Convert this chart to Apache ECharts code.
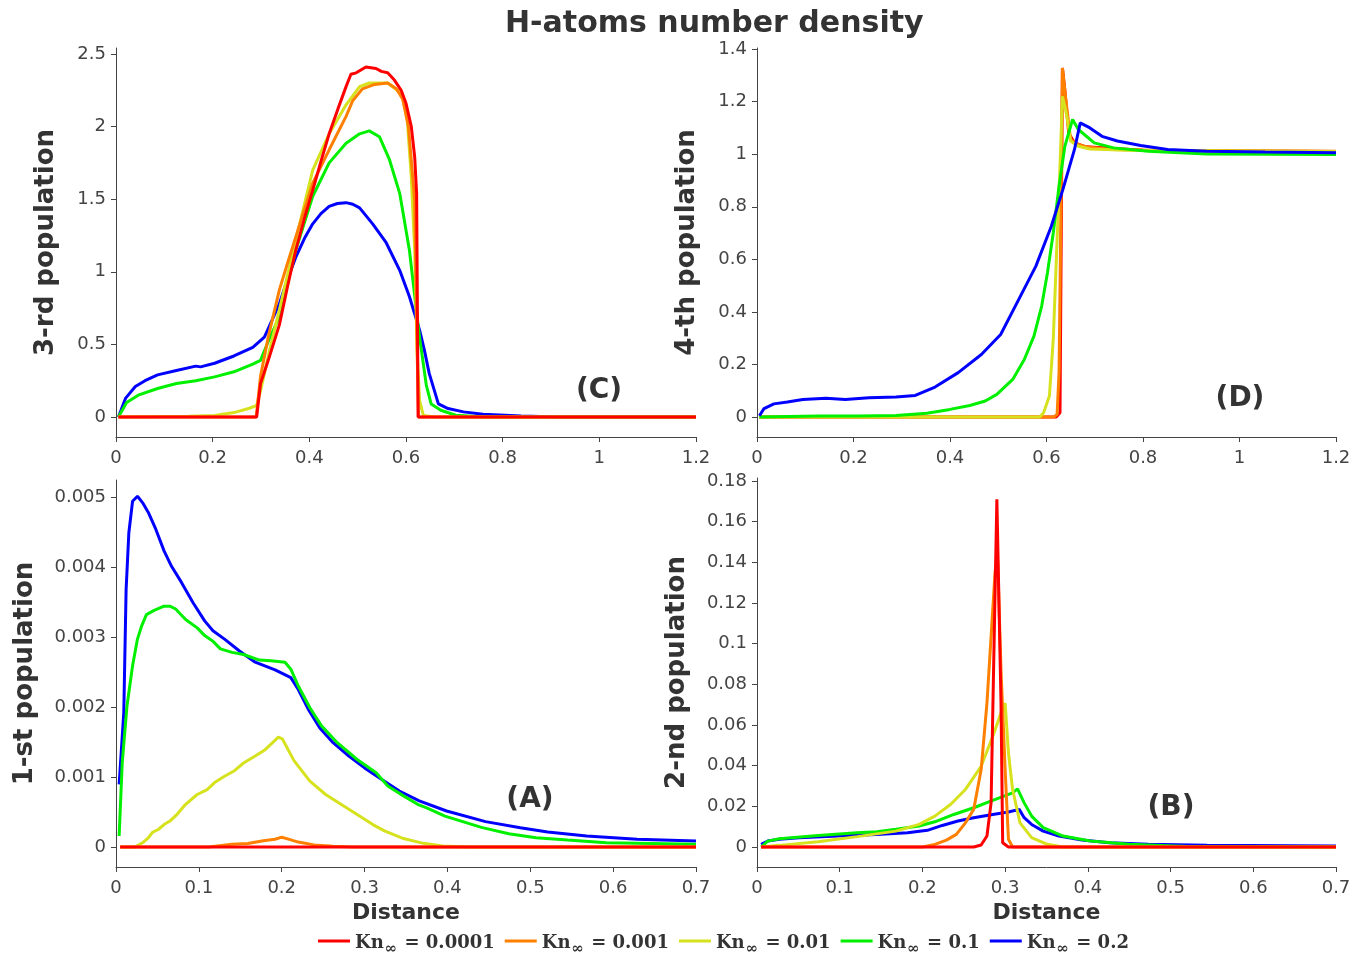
<!DOCTYPE html>
<html><head><meta charset="utf-8">
<script src="https://cdn.jsdelivr.net/npm/echarts@6/dist/echarts.min.js"></script>
<style>html,body{margin:0;padding:0;background:#fff}#c{width:1370px;height:954px}</style>
</head><body><div id="c"></div>
<script>
const seriesNames = ['Kn∞ = 0.0001','Kn∞ = 0.001','Kn∞ = 0.01','Kn∞ = 0.1','Kn∞ = 0.2'];
const panelLabels = ['(C)','(D)','(A)','(B)'];
const yNames = ['3-rd population','4-th population','1-st population','2-nd population'];
const xTicksWide = [0,0.2,0.4,0.6,0.8,1,1.2];
const xTicksNarrow = [0,0.1,0.2,0.3,0.4,0.5,0.6,0.7];
const yTicksC = [0,0.5,1,1.5,2,2.5];
const yTicksD = [0,0.2,0.4,0.6,0.8,1,1.2,1.4];
const yTicksA = [0,0.001,0.002,0.003,0.004,0.005];
const yTicksB = [0,0.02,0.04,0.06,0.08,0.1,0.12,0.14,0.16,0.18];

// Panel C (3-rd population)
const cRed = [[0.005,0],[0.291,0],[0.299,0.23],[0.315,0.39],[0.338,0.634],[0.355,0.9],[0.372,1.15],[0.39,1.37],[0.407,1.56],[0.424,1.76],[0.441,1.95],[0.459,2.12],[0.476,2.275],[0.486,2.36],[0.497,2.37],[0.517,2.41],[0.538,2.40],[0.549,2.38],[0.562,2.37],[0.576,2.32],[0.59,2.25],[0.6,2.16],[0.611,2.0],[0.618,1.79],[0.622,1.54],[0.625,0],[1.2,0]];
const cOrange = [[0.005,0],[0.29,0],[0.299,0.28],[0.315,0.55],[0.338,0.875],[0.355,1.06],[0.372,1.24],[0.39,1.43],[0.407,1.61],[0.441,1.84],[0.476,2.07],[0.49,2.18],[0.51,2.26],[0.535,2.29],[0.562,2.30],[0.58,2.26],[0.593,2.19],[0.605,2.0],[0.618,1.49],[0.623,0.46],[0.626,0],[1.2,0]];
const cYellow = [[0.005,0],[0.15,0.005],[0.204,0.01],[0.244,0.03],[0.276,0.06],[0.291,0.08],[0.299,0.18],[0.315,0.42],[0.338,0.737],[0.372,1.22],[0.407,1.70],[0.441,1.95],[0.476,2.15],[0.504,2.275],[0.524,2.30],[0.562,2.30],[0.586,2.24],[0.596,2.17],[0.603,2.03],[0.611,1.65],[0.618,1.15],[0.623,0.46],[0.628,0.115],[0.636,0.01],[0.66,0],[1.2,0]];
const cGreen = [[0.005,0],[0.022,0.10],[0.046,0.15],[0.086,0.196],[0.125,0.23],[0.165,0.249],[0.204,0.276],[0.244,0.311],[0.283,0.364],[0.299,0.39],[0.315,0.52],[0.338,0.69],[0.372,1.15],[0.407,1.52],[0.441,1.75],[0.476,1.885],[0.504,1.95],[0.524,1.97],[0.545,1.93],[0.566,1.77],[0.587,1.54],[0.607,1.15],[0.628,0.55],[0.642,0.22],[0.652,0.09],[0.672,0.046],[0.703,0.012],[0.76,0],[1.2,0]];
const cBlue = [[0.005,0],[0.02,0.13],[0.04,0.21],[0.06,0.25],[0.086,0.29],[0.125,0.32],[0.165,0.35],[0.175,0.345],[0.204,0.37],[0.244,0.42],[0.283,0.48],[0.307,0.55],[0.322,0.66],[0.338,0.78],[0.355,0.95],[0.372,1.10],[0.39,1.23],[0.407,1.33],[0.424,1.40],[0.441,1.45],[0.458,1.47],[0.476,1.476],[0.49,1.465],[0.504,1.44],[0.531,1.33],[0.559,1.20],[0.587,1.01],[0.607,0.83],[0.628,0.60],[0.638,0.46],[0.648,0.3],[0.667,0.09],[0.687,0.058],[0.719,0.035],[0.759,0.018],[0.838,0.007],[0.917,0],[1.2,0]];

// Panel D (4-th population)
const dRed = [[0.005,0],[0.62,0],[0.628,0.016],[0.63,0.55],[0.633,1.328],[0.638,1.245],[0.646,1.08],[0.658,1.043],[0.682,1.028],[0.8,1.015],[1.2,1.01]];
const dOrange = [[0.005,0],[0.615,0],[0.622,0.01],[0.626,0.168],[0.63,0.80],[0.633,1.328],[0.64,1.208],[0.65,1.056],[0.662,1.04],[0.682,1.028],[0.731,1.018],[0.851,1.014],[1.2,1.011]];
const dYellow = [[0.005,0],[0.586,0],[0.594,0.016],[0.606,0.08],[0.614,0.295],[0.622,0.676],[0.628,0.954],[0.633,1.22],[0.641,1.156],[0.65,1.05],[0.666,1.03],[0.69,1.02],[0.771,1.015],[1.2,1.01]];
const dGreen = [[0.005,0],[0.127,0.004],[0.208,0.004],[0.288,0.006],[0.352,0.014],[0.4,0.029],[0.441,0.044],[0.473,0.061],[0.497,0.086],[0.53,0.143],[0.554,0.219],[0.574,0.308],[0.59,0.422],[0.602,0.549],[0.614,0.70],[0.626,0.878],[0.638,1.03],[0.654,1.132],[0.666,1.094],[0.699,1.043],[0.739,1.024],[0.811,1.011],[0.932,1.001],[1.2,0.999]];
const dBlue = [[0.005,0.005],[0.0145,0.032],[0.035,0.05],[0.063,0.057],[0.095,0.067],[0.143,0.071],[0.183,0.067],[0.232,0.073],[0.288,0.076],[0.328,0.082],[0.369,0.114],[0.417,0.169],[0.465,0.238],[0.505,0.314],[0.546,0.46],[0.578,0.574],[0.61,0.726],[0.634,0.866],[0.658,1.018],[0.67,1.119],[0.69,1.10],[0.715,1.068],[0.747,1.05],[0.795,1.033],[0.851,1.018],[0.932,1.011],[1.053,1.008],[1.2,1.005]];

// Panel A (1-st population)
const aRed = [[0.005,0],[0.7,0]];
const aOrange = [[0.005,0],[0.112,0],[0.14,0.00004],[0.159,0.00005],[0.178,0.00009],[0.192,0.00011],[0.2,0.00014],[0.206,0.00012],[0.22,0.00007],[0.239,0.00003],[0.262,0.00001],[0.286,0],[0.7,0]];
const aYellow = [[0.005,0],[0.0226,0],[0.032,0.00006],[0.039,0.00013],[0.044,0.00021],[0.051,0.00025],[0.058,0.00032],[0.065,0.00037],[0.074,0.00047],[0.084,0.00061],[0.098,0.00075],[0.11,0.00082],[0.119,0.00092],[0.131,0.00101],[0.143,0.00109],[0.154,0.0012],[0.168,0.0013],[0.18,0.00139],[0.189,0.00149],[0.196,0.00157],[0.201,0.00154],[0.215,0.00123],[0.234,0.00094],[0.253,0.00075],[0.281,0.00054],[0.31,0.00032],[0.324,0.00023],[0.347,0.00012],[0.371,0.000052],[0.394,0.000014],[0.427,0],[0.7,0]];
const aGreen = [[0.0038,0.000157],[0.0075,0.0012],[0.0132,0.00201],[0.02,0.00259],[0.0259,0.00297],[0.031,0.00316],[0.0367,0.00332],[0.046,0.00338],[0.058,0.00344],[0.065,0.00344],[0.072,0.0034],[0.084,0.00325],[0.098,0.00313],[0.107,0.00302],[0.117,0.00294],[0.126,0.00283],[0.14,0.00278],[0.154,0.00275],[0.173,0.00267],[0.187,0.00266],[0.204,0.00264],[0.211,0.00254],[0.22,0.0023],[0.234,0.00199],[0.248,0.00173],[0.267,0.00149],[0.291,0.00125],[0.314,0.00106],[0.328,0.00087],[0.347,0.00073],[0.364,0.00061],[0.375,0.00056],[0.397,0.00044],[0.441,0.00028],[0.474,0.00019],[0.507,0.000133],[0.545,0.0001],[0.592,0.000062],[0.7,0.000038]];
const aBlue = [[0.0038,0.000895],[0.0094,0.00192],[0.0122,0.00368],[0.0155,0.00449],[0.02,0.00494],[0.0259,0.00501],[0.032,0.00492],[0.039,0.00478],[0.048,0.00454],[0.058,0.00423],[0.067,0.00401],[0.079,0.00378],[0.093,0.00349],[0.107,0.00323],[0.117,0.00309],[0.131,0.00297],[0.149,0.0028],[0.168,0.00264],[0.192,0.00253],[0.211,0.00242],[0.22,0.00225],[0.232,0.00197],[0.246,0.0017],[0.262,0.00149],[0.281,0.0013],[0.3,0.00113],[0.324,0.00094],[0.342,0.0008],[0.366,0.00066],[0.399,0.000514],[0.446,0.000362],[0.488,0.000276],[0.521,0.000214],[0.568,0.000157],[0.629,0.00011],[0.7,0.000086]];

// Panel B (2-nd population)
const bRed = [[0.005,0],[0.262,0],[0.271,0.001],[0.278,0.0054],[0.283,0.0217],[0.286,0.087],[0.29,0.171],[0.292,0.171],[0.295,0.0708],[0.297,0.0021],[0.304,0],[0.7,0]];
const bOrange = [[0.005,0],[0.2,0],[0.215,0.0013],[0.229,0.0034],[0.241,0.0062],[0.252,0.0119],[0.262,0.0185],[0.271,0.0381],[0.278,0.0708],[0.283,0.1035],[0.288,0.1362],[0.291,0.141],[0.295,0.087],[0.3,0.038],[0.304,0.0038],[0.309,0],[0.7,0]];
const bYellow = [[0.005,0],[0.027,0.0008],[0.074,0.0026],[0.121,0.0051],[0.168,0.0078],[0.196,0.0111],[0.215,0.0152],[0.234,0.0209],[0.252,0.0283],[0.271,0.0397],[0.285,0.0544],[0.295,0.0659],[0.3,0.0708],[0.304,0.0463],[0.309,0.0283],[0.318,0.0119],[0.332,0.0046],[0.351,0.0013],[0.37,0],[0.7,0]];
const bGreen = [[0.005,0],[0.013,0.0029],[0.027,0.0041],[0.074,0.0057],[0.121,0.007],[0.145,0.0075],[0.168,0.0087],[0.196,0.0103],[0.215,0.0124],[0.238,0.016],[0.262,0.0193],[0.285,0.0229],[0.309,0.0266],[0.315,0.0286],[0.323,0.0217],[0.332,0.0152],[0.346,0.0095],[0.37,0.0054],[0.403,0.0029],[0.45,0.0013],[0.52,0.0003],[0.7,0]];
const bBlue = [[0.005,0.0013],[0.013,0.0029],[0.027,0.0038],[0.051,0.0046],[0.098,0.0054],[0.145,0.0062],[0.182,0.007],[0.206,0.0082],[0.224,0.0106],[0.243,0.0128],[0.262,0.0144],[0.285,0.016],[0.304,0.0172],[0.317,0.0185],[0.323,0.0144],[0.332,0.0111],[0.346,0.0078],[0.365,0.0054],[0.393,0.0034],[0.426,0.0021],[0.473,0.0013],[0.544,0.0008],[0.7,0.0005]];

const colors = ['#ff0000','#ff8000','#d6e21e','#00f000','#0000ff'];
const F = 'DejaVu Sans';
const TXT = '#444';

const grids = [
  {left:116, top:48, width:580, height:389},
  {left:757, top:48, width:579, height:389},
  {left:116, top:480, width:580, height:387},
  {left:757, top:478, width:579, height:389}
];
const yRanges = [[-0.138,2.541],[-0.076,1.404],[-0.000286,0.005243],[-0.00984,0.1815]];
const yTicks = [yTicksC, yTicksD, yTicksA, yTicksB];
const xTicks = [xTicksWide, xTicksWide, xTicksNarrow, xTicksNarrow];
const yNameGaps = [57, 57, 78, 67];
const fmt = v => String(parseFloat(Number(v).toFixed(6)));

const xAxes = [0,1,2,3].map(i => ({
  type:'value', gridIndex:i, position:'bottom', min:0, max: i<2 ? 1.2 : 0.7,
  name: i>=2 ? 'Distance' : '', nameLocation:'middle', nameGap:35,
  nameTextStyle:{fontFamily:F, fontWeight:'bold', fontSize:22, color:'#333'},
  axisLine:{show:true, onZero:false, lineStyle:{color:TXT, width:1}},
  axisTick:{show:true, length:5, lineStyle:{color:TXT}, customValues:xTicks[i]},
  axisLabel:{fontFamily:F, fontSize:18, color:TXT, margin:12, customValues:xTicks[i], formatter:fmt},
  splitLine:{show:false}
}));
const yAxes = [0,1,2,3].map(i => ({
  type:'value', gridIndex:i, position:'left', min:yRanges[i][0], max:yRanges[i][1],
  name: yNames[i], nameLocation:'middle', nameGap:yNameGaps[i], nameRotate:90,
  nameTextStyle:{fontFamily:F, fontWeight:'bold', fontSize:26, color:'#333'},
  axisLine:{show:true, onZero:false, lineStyle:{color:TXT, width:1}},
  axisTick:{show:true, length:5, lineStyle:{color:TXT}, customValues:yTicks[i]},
  axisLabel:{fontFamily:F, fontSize:18, color:TXT, margin:10, customValues:yTicks[i], formatter:fmt},
  splitLine:{show:false}
}));

const panelData = [
  [cRed,cOrange,cYellow,cGreen,cBlue],
  [dRed,dOrange,dYellow,dGreen,dBlue],
  [aRed,aOrange,aYellow,aGreen,aBlue],
  [bRed,bOrange,bYellow,bGreen,bBlue]
];
const series = [];
panelData.forEach((arrs, p) => {
  arrs.forEach((d, k) => {
    const z = p === 1 ? 2 + k : 2 + (4 - k);
    series.push({
      type:'line', name:seriesNames[k], xAxisIndex:p, yAxisIndex:p, data:d,
      symbol:'none', showSymbol:false, z:z,
      lineStyle:{width:3, color:colors[k]}, itemStyle:{color:colors[k]},
      emphasis:{disabled:true}, animation:false
    });
  });
});

const labelPos = [[599,391],[1240,399],[530,800],[1171,808]];
const graphics = panelLabels.map((t,i) => ({
  type:'text', x:labelPos[i][0], y:labelPos[i][1],
  style:{text:t, fontFamily:F, fontWeight:'bold', fontSize:28, fill:'#333', textAlign:'center', textVerticalAlign:'middle'}
}));

const chart = echarts.init(document.getElementById('c'), null, {renderer:'canvas'});
chart.setOption({
  backgroundColor:'#fff',
  animation:false,
  title:{text:'H-atoms number density', left:500, top:4,
    textStyle:{fontFamily:F, fontWeight:'bold', fontSize:30, color:'#333'}},
  legend:{data:seriesNames, left:313, top:929, icon:'rect', itemWidth:32, itemHeight:3, itemGap:10,
    formatter: n => '{k|Kn}{s|∞}{k| = ' + n.split('= ')[1] + '}',
    textStyle:{color:'#333', rich:{
      k:{fontFamily:'DejaVu Serif', fontWeight:'bold', fontSize:18, color:'#333', verticalAlign:'bottom', lineHeight:22},
      s:{fontFamily:'DejaVu Serif', fontWeight:'bold', fontSize:15, color:'#333', verticalAlign:'bottom', lineHeight:14, padding:[0,1,-5,1]}
    }}},
  grid: grids.map(g => Object.assign({containLabel:false, outerBoundsMode:'none'}, g)),
  xAxis:xAxes, yAxis:yAxes, series:series, graphic:graphics
});
</script></body></html>
